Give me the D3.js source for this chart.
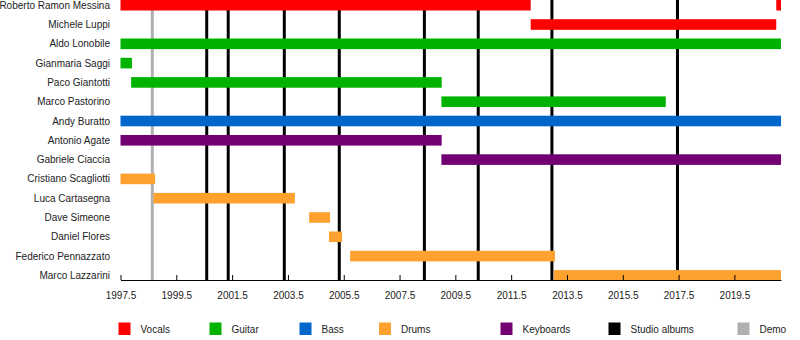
<!DOCTYPE html>
<html>
<head>
<meta charset="utf-8">
<script src="https://cdn.jsdelivr.net/npm/d3@7"></script>
<style>
  html, body { margin: 0; padding: 0; background: #fff; }
  svg { display: block; font-family: "Liberation Sans", Arial, sans-serif; }
</style>
</head>
<body>
<svg id="chart" width="800" height="340"></svg>
<script>
// ---- data ----
const members = [
  "Roberto Ramon Messina", "Michele Luppi", "Aldo Lonobile", "Gianmaria Saggi",
  "Paco Giantotti", "Marco Pastorino", "Andy Buratto", "Antonio Agate",
  "Gabriele Ciaccia", "Cristiano Scagliotti", "Luca Cartasegna", "Dave Simeone",
  "Daniel Flores", "Federico Pennazzato", "Marco Lazzarini"
];
const periodStart = 1997.5;
const periodEnd = 2021.17;
// [member, role, start, end]
const tenures = [
  ["Roberto Ramon Messina", "Vocals", 1997.5, 2012.2],
  ["Roberto Ramon Messina", "Vocals", 2021.0, 2021.17],
  ["Michele Luppi", "Vocals", 2012.2, 2021.0],
  ["Aldo Lonobile", "Guitar", 1997.5, 2021.17],
  ["Gianmaria Saggi", "Guitar", 1997.5, 1997.91],
  ["Paco Giantotti", "Guitar", 1997.88, 2009.01],
  ["Marco Pastorino", "Guitar", 2009.0, 2017.04],
  ["Andy Buratto", "Bass", 1997.5, 2021.17],
  ["Antonio Agate", "Keyboards", 1997.5, 2009.01],
  ["Gabriele Ciaccia", "Keyboards", 2009.0, 2021.17],
  ["Cristiano Scagliotti", "Drums", 1997.5, 1998.74],
  ["Luca Cartasegna", "Drums", 1998.68, 2003.75],
  ["Dave Simeone", "Drums", 2004.26, 2005.01],
  ["Daniel Flores", "Drums", 2004.97, 2005.44],
  ["Federico Pennazzato", "Drums", 2005.73, 2013.07],
  ["Marco Lazzarini", "Drums", 2013.03, 2021.17]
];
const studioAlbums = [2000.59, 2001.36, 2003.37, 2005.34, 2008.39, 2010.32, 2012.96, 2017.46];
const demos = [1998.64];
const tickValues = [1997.5, 1999.5, 2001.5, 2003.5, 2005.5, 2007.5, 2009.5, 2011.5, 2013.5, 2015.5, 2017.5, 2019.5];
const legendItems = ["Vocals", "Guitar", "Bass", "Drums", "Keyboards", "Studio albums", "Demo"];
const legendColors = ["#ff0000", "#00b300", "#0066cc", "#ffa12f", "#730073", "#000000", "#b0b0b0"];

// ---- layout ----
const svg = d3.select("#chart");
const x = d3.scaleLinear().domain([periodStart, periodEnd]).range([120.5, 781]);
const y = d3.scaleBand().domain(members).range([-4.45, 285.05]).padding(0);
const barH = 10.6;
const axisY = 280;
const color = d3.scaleOrdinal().domain(legendItems).range(legendColors);

// album / demo lines (behind bars)
svg.append("g").selectAll("line.demo").data(demos).join("line")
  .attr("x1", d => x(d)).attr("x2", d => x(d))
  .attr("y1", 0).attr("y2", axisY)
  .attr("stroke", color("Demo")).attr("stroke-width", 3);
svg.append("g").selectAll("line.album").data(studioAlbums).join("line")
  .attr("x1", d => x(d)).attr("x2", d => x(d))
  .attr("y1", 0).attr("y2", axisY)
  .attr("stroke", color("Studio albums")).attr("stroke-width", 3);

// bars
svg.append("g").selectAll("rect").data(tenures).join("rect")
  .attr("x", d => x(d[2]))
  .attr("width", d => x(d[3]) - x(d[2]))
  .attr("y", d => y(d[0]) + y.bandwidth() / 2 - barH / 2)
  .attr("height", barH)
  .attr("fill", d => color(d[1]));

// member labels
svg.append("g").selectAll("text").data(members).join("text")
  .attr("x", 110)
  .attr("y", d => y(d) + y.bandwidth() / 2)
  .attr("dy", "0.35em")
  .attr("text-anchor", "end")
  .attr("font-size", 10)
  .attr("fill", "#222")
  .text(d => d);

// axis
const axis = d3.axisTop(x).tickValues(tickValues).tickFormat(d3.format(".1f")).tickSize(5).tickSizeOuter(0);
const ag = svg.append("g").attr("transform", `translate(0,${axisY})`).call(axis);
ag.select(".domain").attr("stroke", "#000").attr("stroke-width", 1.2);
ag.selectAll(".tick line").attr("stroke", "#000");
ag.selectAll(".tick text")
  .attr("y", 19).attr("dy", 0)
  .attr("font-size", 10)
  .attr("font-family", "Liberation Sans, Arial, sans-serif")
  .attr("fill", "#222");

// legend
const legendX = [118.5, 209.5, 299.5, 379, 500.5, 608.5, 737.5];
const lg = svg.append("g").selectAll("g").data(legendItems).join("g")
  .attr("transform", (d, i) => `translate(${legendX[i]},0)`);
lg.append("rect").attr("x", 0).attr("y", 322.5).attr("width", 12).attr("height", 12.5)
  .attr("fill", d => color(d));
lg.append("text").attr("x", 22).attr("y", 329).attr("dy", "0.35em")
  .attr("font-size", 10).attr("fill", "#222").text(d => d);
</script>
</body>
</html>
